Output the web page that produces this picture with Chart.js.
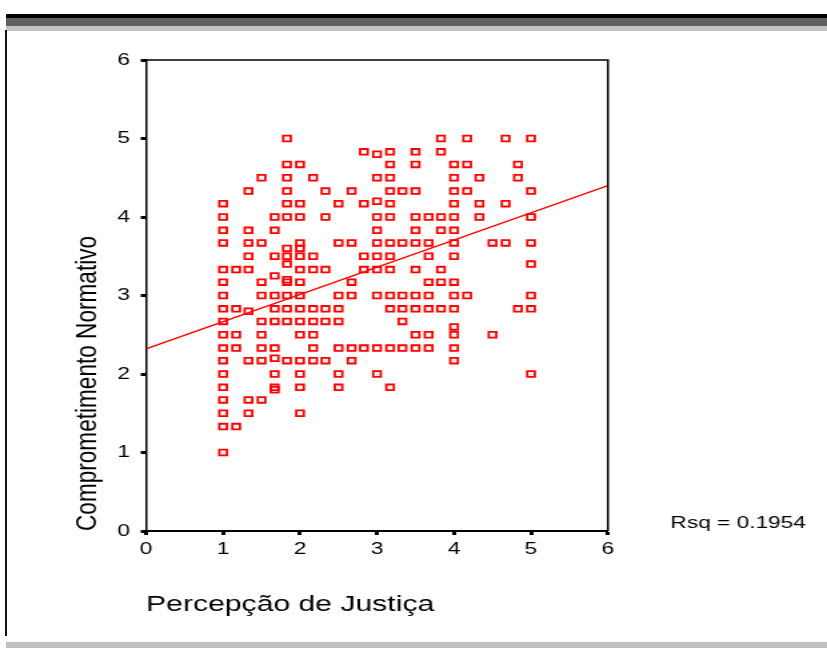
<!DOCTYPE html>
<html>
<head>
<meta charset="utf-8">
<title>Comprometimento Normativo x Percepção de Justiça</title>
<script src="https://cdn.jsdelivr.net/npm/chart.js@4/dist/chart.umd.min.js"></script>
<style>
  html, body { margin: 0; padding: 0; background: #fff; }
  #pagina { position: relative; width: 827px; height: 648px; overflow: hidden; background: #fff; }
  .faixa { position: absolute; }
  /* the canvas is drawn narrow and stretched sideways, like the old SPSS export */
  #grafico { position: absolute; left: 0; top: 0; width: 827px !important; height: 648px !important; }
</style>
</head>
<body>
<div id="pagina">
  <div class="faixa" style="left:6px;top:14px;width:821px;height:4px;background:#000"></div>
  <div class="faixa" style="left:6px;top:18px;width:821px;height:8px;background:#606060"></div>
  <div class="faixa" style="left:6px;top:26px;width:821px;height:5px;background:#c4c4c4"></div>
  <div class="faixa" style="left:5px;top:30px;width:2px;height:606px;background:#111"></div>
  <div class="faixa" style="left:6px;top:642px;width:821px;height:6px;background:#c0c0c0"></div>
  <canvas id="grafico" width="620" height="648" style="width:827px;height:648px"></canvas>
</div>
<script>
// Percepção de Justiça (x) -> notas de Comprometimento Normativo (y) em cada coluna
const colunasX = [1, 1.17, 1.33, 1.5, 1.67, 1.83, 2, 2.17, 2.33, 2.5, 2.67, 2.83,
  3, 3.17, 3.33, 3.5, 3.67, 3.83, 4, 4.17, 4.33, 4.5, 4.67, 4.83, 5];

const valoresY = [
  [4.17, 4, 3.83, 3.67, 3.33, 3.17, 3, 2.83, 2.67, 2.5, 2.33, 2.17, 2, 1.83, 1.67, 1.5, 1.33, 1],
  [3.33, 2.83, 2.5, 2.33, 1.33],
  [4.33, 3.83, 3.67, 3.5, 3.33, 2.8, 2.17, 1.67, 1.5],
  [4.5, 3.67, 3.17, 3, 2.67, 2.5, 2.33, 2.17, 1.67],
  [4, 3.83, 3.5, 3.25, 3, 2.83, 2.67, 2.33, 2.2, 2, 1.83, 1.8],
  [5, 4.67, 4.5, 4.33, 4.17, 4, 3.6, 3.5, 3.4, 3.2, 3.17, 3, 2.83, 2.67, 2.17],
  [4.67, 4.17, 4, 3.67, 3.6, 3.5, 3.33, 3.17, 3, 2.83, 2.67, 2.5, 2.17, 2, 1.83, 1.5],
  [4.5, 3.5, 3.33, 2.83, 2.67, 2.5, 2.33, 2.17],
  [4.33, 4, 3.33, 2.83, 2.67, 2.17],
  [4.17, 3.67, 3, 2.83, 2.67, 2.33, 2, 1.83],
  [4.33, 3.67, 3.17, 3, 2.33, 2.17],
  [4.83, 4.17, 3.5, 3.33, 2.33],
  [4.8, 4.5, 4.2, 4, 3.83, 3.67, 3.5, 3.33, 3, 2.33, 2],
  [4.83, 4.67, 4.5, 4.33, 4.17, 4, 3.67, 3.5, 3.33, 3, 2.83, 2.33, 1.83],
  [4.33, 3.67, 3, 2.83, 2.67, 2.33],
  [4.83, 4.67, 4.33, 4, 3.83, 3.67, 3.33, 3, 2.83, 2.5, 2.33],
  [4, 3.67, 3.5, 3.17, 3, 2.83, 2.5, 2.33],
  [5, 4.83, 4, 3.83, 3.33, 3.17, 2.83],
  [4.67, 4.5, 4.33, 4.17, 4, 3.83, 3.67, 3.5, 3.17, 3, 2.83, 2.6, 2.5, 2.33, 2.17],
  [5, 4.67, 4.33, 3],
  [4.5, 4.17, 4],
  [3.67, 2.5],
  [5, 4.17, 3.67],
  [4.67, 4.5, 2.83],
  [5, 4.33, 4, 3.67, 3.4, 3, 2.83, 2]
];

// reta de regressão linear (extremos do eixo x) e R²
const retaX = [0, 6];
const retaY = [2.32, 4.40];
const rQuadrado = 0.1954;

const ticksEixo = [0, 1, 2, 3, 4, 5, 6];

const fonte = '"Liberation Sans", Arial, Helvetica, sans-serif';
const vermelho = '#ff0000';

const pontos = [];
colunasX.forEach((x, i) => {
  valoresY[i].forEach(y => pontos.push({ x: x, y: y }));
});

const reta = retaX.map((x, i) => ({ x: x, y: retaY[i] }));

// fecha a caixa do gráfico (topo e direita) e escreve o Rsq
const moldura = {
  id: 'moldura',
  afterDraw(chart) {
    const { ctx, chartArea } = chart;
    ctx.save();
    ctx.strokeStyle = '#000';
    ctx.lineWidth = 1.5;
    ctx.beginPath();
    ctx.moveTo(chartArea.left, chartArea.top);
    ctx.lineTo(chartArea.right, chartArea.top);
    ctx.lineTo(chartArea.right, chartArea.bottom);
    ctx.stroke();

    ctx.fillStyle = '#000';
    ctx.font = '17px ' + fonte;
    ctx.textAlign = 'left';
    ctx.textBaseline = 'middle';
    ctx.fillText('Rsq = ' + rQuadrado.toFixed(4), 502.6, 523.5);
    ctx.restore();
  }
};

new Chart(document.getElementById('grafico'), {
  type: 'scatter',
  data: {
    datasets: [
      {
        data: pontos,
        pointStyle: 'rect',
        pointRadius: 4,
        borderWidth: 1.8,
        borderColor: vermelho,
        backgroundColor: 'transparent'
      },
      {
        data: reta,
        showLine: true,
        pointRadius: 0,
        borderWidth: 1.5,
        borderColor: vermelho,
        backgroundColor: 'transparent'
      }
    ]
  },
  options: {
    responsive: false,
    animation: false,
    events: [],
    layout: { padding: { left: 0, top: 60, right: 164.2, bottom: 27 } },
    plugins: {
      legend: { display: false },
      tooltip: { enabled: false }
    },
    scales: {
      x: {
        type: 'linear',
        min: 0,
        max: 6,
        afterBuildTicks: s => { s.ticks = ticksEixo.map(v => ({ value: v })); },
        ticks: { color: '#000', font: { family: fonte, size: 17 }, padding: 4 },
        grid: { drawOnChartArea: false, tickLength: 4, tickWidth: 3, tickColor: '#000' },
        border: { color: '#000', width: 2 },
        title: {
          display: true,
          text: 'Percepção de Justiça',
          align: 'start',
          color: '#000',
          font: { family: fonte, size: 22.6 },
          padding: { top: 0, bottom: 3 }
        },
        afterFit: s => { s.height = 90; }
      },
      y: {
        type: 'linear',
        min: 0,
        max: 6,
        afterBuildTicks: s => { s.ticks = ticksEixo.map(v => ({ value: v })); },
        ticks: { color: '#000', font: { family: fonte, size: 17 }, padding: 8 },
        grid: { drawOnChartArea: false, tickLength: 4, tickWidth: 3, tickColor: '#000' },
        border: { color: '#000', width: 1.5 },
        title: {
          display: true,
          text: 'Comprometimento Normativo',
          align: 'start',
          color: '#000',
          font: { family: fonte, size: 22.6 },
          padding: { top: 52.5, bottom: 0 }
        },
        afterFit: s => { s.width = 109.5; }
      }
    }
  },
  plugins: [moldura]
});
</script>
</body>
</html>
